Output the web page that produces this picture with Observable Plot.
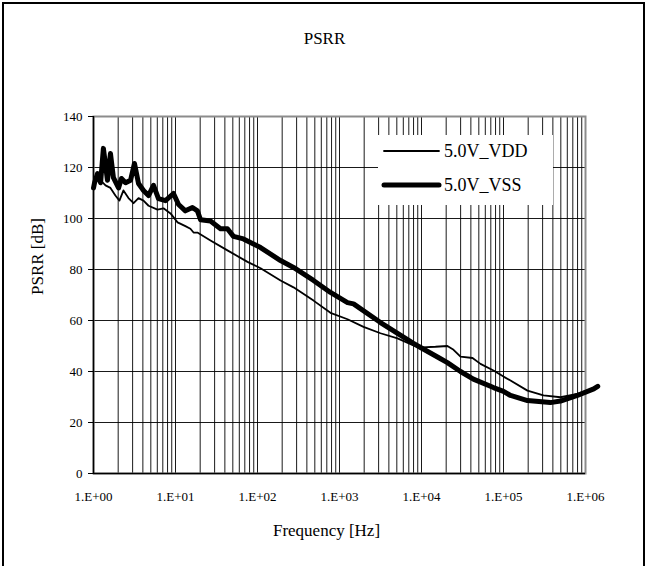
<!DOCTYPE html>
<html>
<head>
<meta charset="utf-8">
<script src="https://cdn.jsdelivr.net/npm/d3@7"></script>
<script src="https://cdn.jsdelivr.net/npm/@observablehq/plot@0.6"></script>
<style>
  html, body { margin: 0; padding: 0; background: #fff; }
  #wrap { position: relative; width: 649px; height: 566px; font-family: "Liberation Serif", "Times New Roman", serif; }
  #border { position: absolute; left: 2px; top: 2px; width: 643px; height: 570px; border: 2px solid #000; box-sizing: border-box; pointer-events: none; }
  #title { position: absolute; left: 0; width: 649px; top: 29px; text-align: center; font-size: 17px; color: #000; }
  #legend { position: absolute; left: 378px; top: 135px; width: 175px; height: 70px; background: #fff; }
  #legend .row { position: absolute; left: 0; height: 20px; display: flex; align-items: center; font-size: 18px; }
  #legend svg { display: block; }
  #chart { position: absolute; left: 0; top: 0; }
  #chart svg, #chart svg text { font-family: "Liberation Serif", "Times New Roman", serif !important; }
</style>
</head>
<body>
<div id="wrap">
  <div id="chart"></div>
  <div id="title">PSRR</div>
  <div id="legend"></div>
  <div id="border"></div>
</div>
<script>
// ---- data (frequency in Hz, PSRR in dB) ----
const vddFreq = [1, 1.09, 1.22, 1.4, 1.61, 1.85, 2.07, 2.32, 2.67, 3.08, 3.54, 4.07, 4.69, 6.03, 7.14, 8.69,
  10.6, 13.2, 15.2, 16.6, 18.5, 26.7, 43, 75.5, 109, 191, 275, 482, 776, 1253, 1963, 3162, 5100, 7980,
  10240, 14800, 20700, 24600, 29900, 41900, 52400, 75500, 100000, 121700, 196000, 307000, 495000, 795000, 1320000];
const vddDb = [113, 117.5, 115, 113, 112, 109, 107, 111, 108, 106, 108, 107, 105, 103.5, 104, 102,
  98.5, 97, 96, 94.5, 94.5, 91.4, 87.5, 83, 80.5, 75.7, 73, 67.8, 63, 60.5, 57.5, 55, 53, 50.2,
  49.5, 49.7, 50, 48.5, 45.8, 45.3, 43, 40.4, 38, 36.5, 32.5, 30.6, 29.9, 31.2, 33.7];

const vssFreq = [1, 1.03, 1.12, 1.22, 1.32, 1.48, 1.61, 1.75, 2.02, 2.19, 2.46, 2.83, 3.16, 3.54, 4.07, 4.69,
  5.39, 6.2, 7.55, 9.45, 10.9, 13.2, 16.1, 18.5, 20.2, 26.7, 35.4, 43, 50.9, 67.4, 109, 191, 275, 482,
  776, 1253, 1484, 3162, 7980, 17100, 20700, 29900, 42900, 75500, 100000, 121700, 196000, 373000, 495000, 795000, 1260000, 1410000];
const vssDb = [112, 114, 117.6, 114, 127.5, 115, 125.5, 116, 112, 115.7, 114, 115, 121.6, 113.7, 111, 109,
  113, 107.8, 107, 109.8, 105.5, 103, 104.3, 103, 99.5, 99, 96, 96, 93, 92, 88.6, 83.5, 80.8, 75.7,
  71, 67, 66.5, 59.2, 51, 45, 43.5, 40, 37, 33.7, 32.2, 30.6, 28.6, 27.8, 28.4, 30.6, 33.2, 34.2];

const seriesNames = ["5.0V_VDD", "5.0V_VSS"];
const seriesWidths = [1.8, 5];

const xTickValues = [1, 10, 100, 1000, 10000, 100000, 1000000];
const xTickLabels = ["1.E+00", "1.E+01", "1.E+02", "1.E+03", "1.E+04", "1.E+05", "1.E+06"];
const yTickValues = [0, 20, 40, 60, 80, 100, 120, 140];

const titleText = "PSRR";
const xLabel = "Frequency [Hz]";
const yLabel = "PSRR [dB]";

// ---- build ----
const vdd = vddFreq.map((f, i) => ({f, db: vddDb[i]}));
const vss = vssFreq.map((f, i) => ({f, db: vssDb[i]}));
const gridX = [];
for (let k = 0; k < 6; k++) for (let m = 1; m <= 9; m++) gridX.push(m * Math.pow(10, k));
gridX.push(1e6);

const font = "'Liberation Serif', 'Times New Roman', serif";

const chart = Plot.plot({
  width: 649,
  height: 566,
  marginLeft: 93,
  marginRight: 64,
  marginTop: 116,
  marginBottom: 93,
  style: {fontFamily: font, color: "#000", background: "transparent"},
  x: {type: "log", domain: [1, 1e6]},
  y: {domain: [0, 140]},
  marks: [
    Plot.ruleX(gridX, {stroke: "#000", strokeWidth: 1, strokeOpacity: 0.9}),
    Plot.ruleY(yTickValues.slice(1, -1), {stroke: "#000", strokeWidth: 1, strokeOpacity: 0.9}),
    Plot.frame({stroke: "#8c8c8c", strokeWidth: 2}),
    Plot.ruleX([1], {stroke: "#000", strokeWidth: 1.5}),
    Plot.ruleY([0], {stroke: "#000", strokeWidth: 1.5}),
    Plot.axisY({ticks: yTickValues, tickSize: 5, tickPadding: 6, fontSize: 13, label: null, stroke: "#000", fontFamily: font}),
    Plot.axisX({ticks: xTickValues, tickSize: 0, tickPadding: 18, fontSize: 13, label: null, fontFamily: font,
      tickFormat: (d) => xTickLabels[xTickValues.indexOf(d)]}),
    Plot.text([xLabel], {frameAnchor: "bottom", dx: -13, dy: 62, fontSize: 17, fill: "#000", fontFamily: font}),
    Plot.text([yLabel], {frameAnchor: "left", rotate: -90, dx: -56, fontSize: 17, fill: "#000", fontFamily: font}),
    Plot.line(vdd, {x: "f", y: "db", stroke: "#000", strokeWidth: seriesWidths[0], strokeLinejoin: "round"}),
    Plot.line(vss, {x: "f", y: "db", stroke: "#000", strokeWidth: seriesWidths[1], strokeLinejoin: "round", strokeLinecap: "round"})
  ]
});
document.getElementById("chart").appendChild(chart);
document.getElementById("title").textContent = titleText;

// legend
const legend = document.getElementById("legend");
seriesNames.forEach((name, i) => {
  const row = document.createElement("div");
  row.className = "row";
  row.style.top = (6 + i * 34) + "px";
  row.innerHTML = `<svg width="64" height="20"><line x1="6" x2="61" y1="10" y2="10" stroke="#000" stroke-width="${seriesWidths[i]}" stroke-linecap="round"/></svg><span style="margin-left:2px">${name}</span>`;
  legend.appendChild(row);
});
</script>
</body>
</html>
